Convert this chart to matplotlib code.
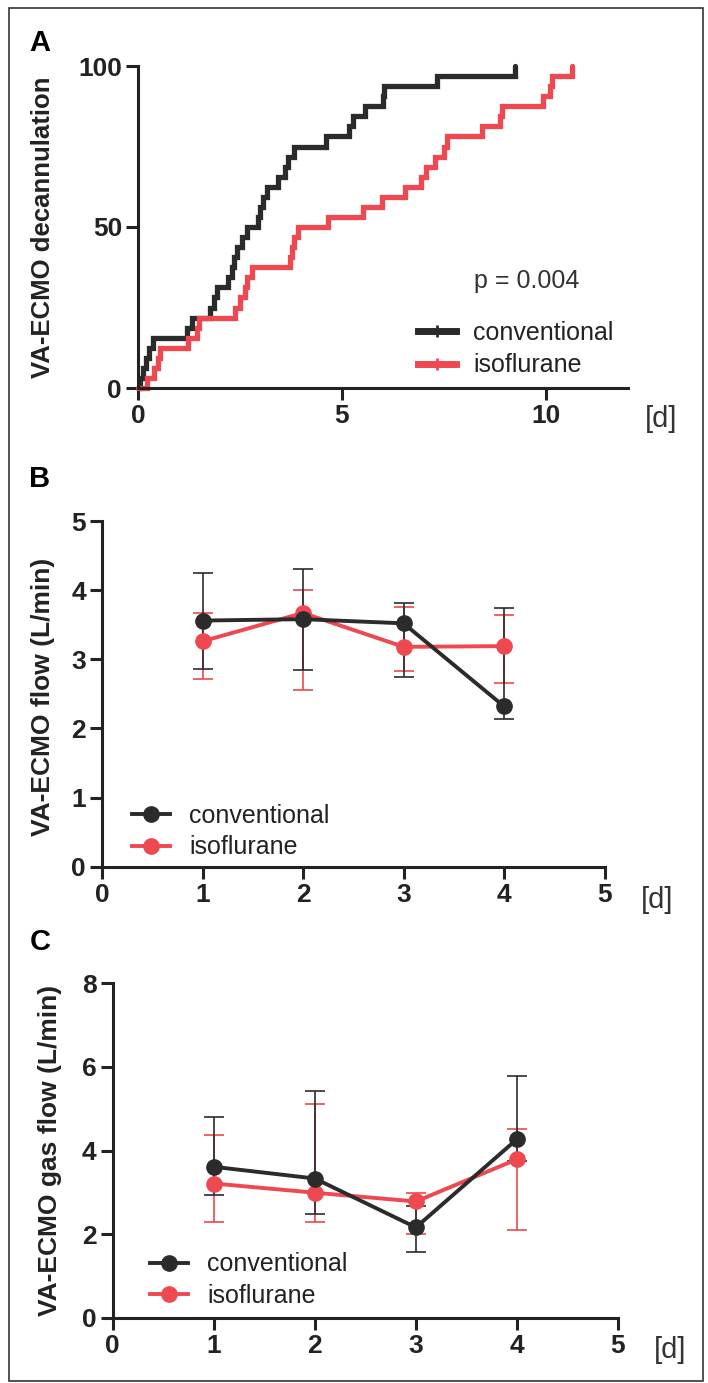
import numpy as np
import matplotlib
matplotlib.use("Agg")
import matplotlib.pyplot as plt
from matplotlib.lines import Line2D
from matplotlib.patches import Rectangle

# ---------------- data ----------------
# Panel A: Kaplan-Meier style cumulative decannulation (event times in days)
conv_times = [0.04, 0.12, 0.2, 0.28, 0.37, 1.19, 1.32, 1.76, 1.87, 1.93,
              2.21, 2.3, 2.36, 2.42, 2.55, 2.68, 2.93, 3.0, 3.07, 3.17,
              3.44, 3.6, 3.68, 3.83, 4.62, 5.16, 5.28, 5.56, 6.0, 6.02,
              7.32, 9.25]
iso_times = [0.21, 0.38, 0.5, 0.54, 1.23, 1.45, 1.5, 2.38, 2.5, 2.62,
             2.66, 2.79, 3.73, 3.78, 3.83, 3.93, 4.66, 5.52, 5.97, 6.54,
             6.93, 7.05, 7.28, 7.5, 7.57, 8.42, 8.88, 8.91, 9.93, 10.1,
             10.14, 10.63]
p_text = "p = 0.004"

days = [1, 2, 3, 4]
# Panel B: VA-ECMO flow (L/min), median with lower/upper bounds
flow_conv = [3.56, 3.58, 3.52, 2.32]
flow_conv_lo = [2.86, 2.85, 2.75, 2.13]
flow_conv_hi = [4.25, 4.31, 3.81, 3.74]
flow_iso = [3.26, 3.67, 3.18, 3.19]
flow_iso_lo = [2.71, 2.55, 2.83, 2.66]
flow_iso_hi = [3.67, 4.00, 3.75, 3.64]

# Panel C: VA-ECMO gas flow (L/min)
gas_conv = [3.61, 3.33, 2.16, 4.27]
gas_conv_lo = [2.94, 2.47, 1.58, 3.76]
gas_conv_hi = [4.79, 5.43, 2.67, 5.78]
gas_iso = [3.21, 2.99, 2.78, 3.79]
gas_iso_lo = [2.30, 2.30, 2.00, 2.11]
gas_iso_hi = [4.37, 5.11, 2.99, 4.51]

labels = ["conventional", "isoflurane"]
BLACK = "#2b2b2b"
RED = "#ee4850"
TXT = "#222222"

W, H = 708, 1383
fig = plt.figure(figsize=(W / 100, H / 100), dpi=100)

def fx(px):
    return px / W

def fy(py):
    return 1 - py / H

# outer frame
fig.patches.append(Rectangle((fx(9), fy(1381)), fx(703) - fx(9), fy(8) - fy(1381),
                             transform=fig.transFigure, fill=False,
                             edgecolor="#333333", linewidth=1.2))

BOLD = dict(family="Liberation Sans", weight="bold")
REG = dict(family="Liberation Sans")

def style_axes(ax):
    for s in ["top", "right"]:
        ax.spines[s].set_visible(False)
    for s in ["left", "bottom"]:
        ax.spines[s].set_linewidth(2.2)
        ax.spines[s].set_color(TXT)
    ax.tick_params(length=8.5, width=2.2, color=TXT, labelsize=19, pad=3)
    for lab in ax.get_xticklabels() + ax.get_yticklabels():
        lab.set_fontfamily("Liberation Sans")
        lab.set_fontweight("bold")
        lab.set_color(TXT)
    ax.set_facecolor("none")

# ---------------- Panel A ----------------
axA = fig.add_axes([fx(138), fy(388), fx(627.6) - fx(138), fy(66) - fy(388)])
for times, col in [(conv_times, BLACK), (iso_times, RED)]:
    t = np.array(times)
    n = len(t)
    x = np.concatenate([[0.0], t])
    y = np.concatenate([[0.0], 100.0 * np.arange(1, n + 1) / n])
    axA.step(x, y, where="post", color=col, lw=3.8, clip_on=False,
             solid_capstyle="round", solid_joinstyle="miter")
axA.set_xlim(0, 12)
axA.set_ylim(0, 100)
axA.set_xticks([0, 5, 10])
axA.set_yticks([0, 50, 100])
style_axes(axA)
fig.text(fx(43), fy(227), "VA-ECMO decannulation", rotation=90, ha="center", va="center",
         fontsize=18.5, color=TXT, **BOLD)
fig.text(fx(527), fy(281), p_text, ha="center", va="center", fontsize=18, color="#333333", **REG)
hA = [Line2D([], [], color=BLACK, lw=5, marker="|", markersize=9, markeredgewidth=2),
      Line2D([], [], color=RED, lw=5, marker="|", markersize=9, markeredgewidth=2)]
legA = axA.legend(hA, labels, loc="center left", bbox_to_anchor=(fx(418), fy(349)),
                  bbox_transform=fig.transFigure, frameon=False, prop=dict(size=18, family="Liberation Sans"),
                  handlelength=1.5, handletextpad=0.7, labelspacing=0.35, borderpad=0, borderaxespad=0)
for t in legA.get_texts():
    t.set_color(TXT)
fig.text(fx(661), fy(419), "[d]", ha="center", va="center", fontsize=21, color="#333333", **REG)
fig.text(fx(40), fy(43), "A", ha="center", va="center", fontsize=21, color="black", **BOLD)

# ---------------- Panels B & C ----------------
def panel(rect, conv, clo, chi, iso, ilo, ihi, ylim, yticks, ylabel, ylab_x, ylab_y,
          leg_xy, d_xy, letter_xy, letter):
    ax = fig.add_axes(rect)
    for vals, lo, hi, col in [(iso, ilo, ihi, RED), (conv, clo, chi, BLACK)]:
        v = np.array(vals)
        yerr = np.vstack([v - np.array(lo), np.array(hi) - v])
        ax.errorbar(days, v, yerr=yerr, fmt="-o", color=col, lw=2.8, markersize=11,
                    elinewidth=1.2, capsize=7.5, capthick=1.2, clip_on=False)
    ax.set_xlim(0, 5)
    ax.set_ylim(*ylim)
    ax.set_xticks([0, 1, 2, 3, 4, 5])
    ax.set_yticks(yticks)
    style_axes(ax)
    fig.text(fx(ylab_x), fy(ylab_y), ylabel, rotation=90, ha="center", va="center",
             fontsize=19, color=TXT, **BOLD)
    hs = [Line2D([], [], color=BLACK, lw=2.8, marker="o", markersize=11),
          Line2D([], [], color=RED, lw=2.8, marker="o", markersize=11)]
    leg = ax.legend(hs, labels, loc="center left", bbox_to_anchor=(fx(leg_xy[0]), fy(leg_xy[1])),
                    bbox_transform=fig.transFigure, frameon=False,
                    prop=dict(size=18, family="Liberation Sans"),
                    handlelength=1.5, handletextpad=0.8, labelspacing=0.3, borderpad=0, borderaxespad=0)
    for t in leg.get_texts():
        t.set_color(TXT)
    fig.text(fx(d_xy[0]), fy(d_xy[1]), "[d]", ha="center", va="center", fontsize=21,
             color="#333333", **REG)
    fig.text(fx(letter_xy[0]), fy(letter_xy[1]), letter, ha="center", va="center",
             fontsize=21, color="black", **BOLD)
    return ax

panel([fx(102), fy(866.7), fx(604.5) - fx(102), fy(521) - fy(866.7)],
      flow_conv, flow_conv_lo, flow_conv_hi, flow_iso, flow_iso_lo, flow_iso_hi,
      (0, 5), [0, 1, 2, 3, 4, 5], "VA-ECMO flow (L/min)", 43, 697,
      (132, 831.5), (657, 900), (40, 479), "B")

panel([fx(112.7), fy(1317.7), fx(618) - fx(112.7), fy(983.3) - fy(1317.7)],
      gas_conv, gas_conv_lo, gas_conv_hi, gas_iso, gas_iso_lo, gas_iso_hi,
      (0, 8), [0, 2, 4, 6, 8], "VA-ECMO gas flow (L/min)", 50, 1150,
      (150, 1280), (670, 1350), (40, 942), "C")

fig.savefig("out.png", dpi=100)
